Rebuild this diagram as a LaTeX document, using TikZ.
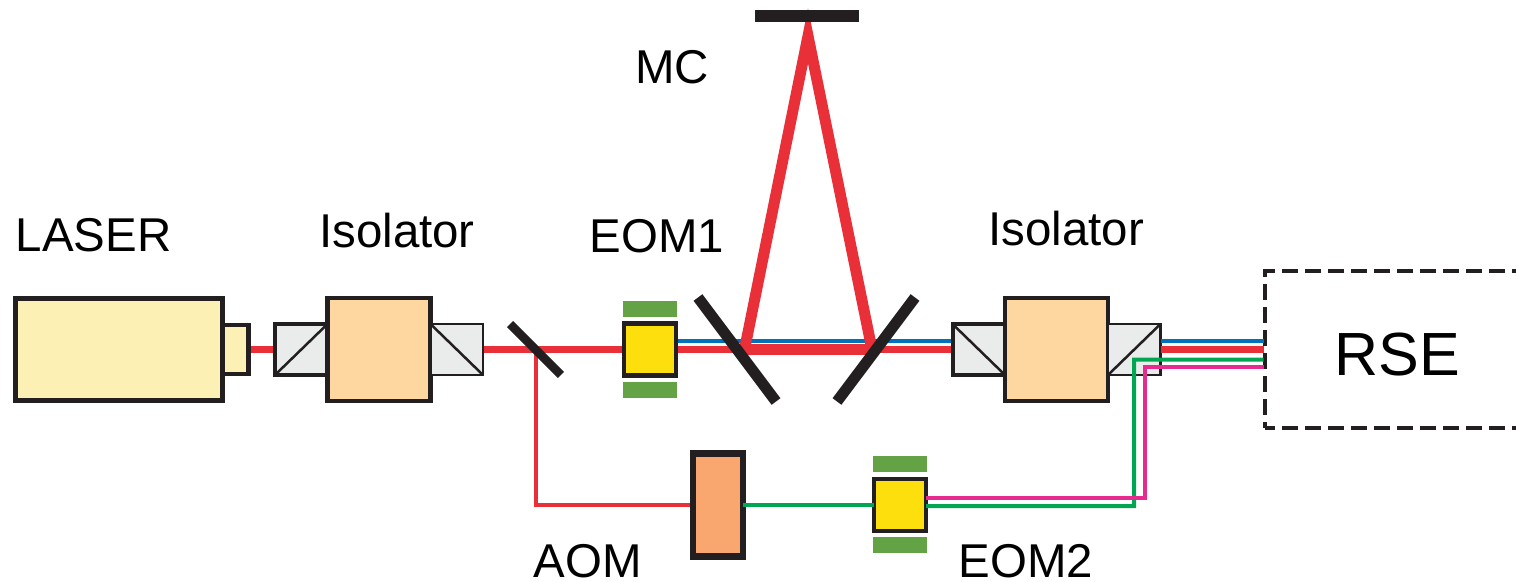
\documentclass[tikz,border=0pt]{standalone}
\usepackage{fontspec}
\setmainfont{Liberation Sans}
\usepackage{xcolor}
\usepackage{tikz}
\usetikzlibrary{positioning,backgrounds}

\definecolor{ink}{HTML}{231F20}
\definecolor{beamred}{HTML}{E92F38}
\definecolor{beamblue}{HTML}{0071BB}
\definecolor{beamgreen}{HTML}{00A651}
\definecolor{beampink}{HTML}{E72A8E}
\definecolor{laserfill}{HTML}{FDF0B5}
\definecolor{bodyfill}{HTML}{FDD6A0}
\definecolor{prismfill}{HTML}{EAECEB}
\definecolor{eomfill}{HTML}{FCDF0C}
\definecolor{platefill}{HTML}{63A345}
\definecolor{aomfill}{HTML}{F9A76E}

\begin{document}
\begin{tikzpicture}[
  box/.style={draw=ink,line width=0.09cm,outer sep=0pt,inner sep=0pt},
  laserbox/.style={box,fill=laserfill},
  bodybox/.style={box,fill=bodyfill,minimum width=2.06cm,minimum height=2.06cm},
  prism/.style={box,fill=prismfill,line width=0.08cm,minimum width=1.05cm,minimum height=1.02cm},
  thinprism/.style={prism,line width=0.055cm},
  eom/.style={box,fill=eomfill,minimum width=1.04cm,minimum height=1.04cm},
  plate/.style={fill=platefill,minimum width=1.08cm,minimum height=0.32cm,
                inner sep=0pt,outer sep=0pt},
  mirror/.style={fill=ink,inner sep=0pt,outer sep=0pt},
  lbl/.style={font=\fontsize{27}{30}\selectfont,inner sep=0pt,anchor=base},
  beam/.style={draw=beamred,line width=0.14cm},
  thinbeam/.style={line width=0.08cm}]

  \useasboundingbox (0,0) rectangle (30.32,11.62);

  \node[laserbox,minimum width=4.14cm,minimum height=2.04cm] (laser) at (2.38,4.63) {};
  \node[laserbox,minimum width=0.52cm,minimum height=0.98cm,right=0pt of laser] (nozzle) {};

  \node[prism,right=0.53cm of nozzle] (prisma) {};
  \node[bodybox,right=0pt of prisma] (isoa) {};
  \node[thinprism,right=0pt of isoa] (prismb) {};

  \node[mirror,minimum width=1.44cm,minimum height=0.17cm,rotate=-45] (split) at (10.71,4.63) {};

  \node[eom] (eoma) at (13.0,4.63) {};
  \node[plate,above=0.14cm of eoma] (plateat) {};
  \node[plate,below=0.12cm of eoma] (plateab) {};

  \node[mirror,minimum width=2.6cm,minimum height=0.22cm,rotate=-53.1] (mirl) at (14.74,4.63) {};
  \node[mirror,minimum width=2.6cm,minimum height=0.22cm,rotate=53.1] (mirr) at (17.52,4.63) {};
  \node[mirror,minimum width=2.08cm,minimum height=0.23cm] (mirt) at (16.13,11.3) {};

  \node[bodybox] (isob) at (21.13,4.63) {};
  \node[prism,left=0pt of isob] (prismc) {};
  \node[thinprism,right=0pt of isob] (prismd) {};

  \node[box,fill=aomfill,line width=0.13cm,minimum width=1.0cm,minimum height=2.06cm] (aom) at (14.36,1.52) {};
  \node[eom] (eomb) at (18.0,1.52) {};
  \node[plate,above=0.14cm of eomb] (platebt) {};
  \node[plate,below=0.12cm of eomb] (platebb) {};

  \node[box,dash pattern=on 0.32cm off 0.14cm,dash phase=0.12cm,fill=none,
        minimum width=5.37cm,minimum height=3.14cm] (rse) at (27.985,4.63) {};
  \node[font=\fontsize{34.7}{40}\selectfont,inner sep=0pt] (rselbl) at (27.94,4.52) {RSE};

  \coordinate (apex) at (16.16,10.9);
  \coordinate (mcl) at (14.89,4.63);
  \coordinate (mcr) at (17.44,4.63);
  \coordinate (branch) at (10.72,4.63);
  \coordinate (greenknee) at (22.68,4.43);
  \coordinate (pinkknee) at (22.9,4.28);

  \begin{scope}[on background layer]
    \draw[draw=beamblue,line width=0.07cm] ([yshift=0.17cm]eoma.east) -- ([yshift=0.17cm]prismc.west);
    \draw[beam] (nozzle) -- (prisma);
    \draw[beam] (prismb) -- (eoma);
    \draw[beam] (eoma) -- (prismc);
    \draw[beam,line width=0.21cm] (mcl) -- (mcr);
    \draw[beam,line width=0.22cm,line join=miter,miter limit=20] (mcl) -- (apex) -- (mcr);
    \draw[draw=beamred,thinbeam] (branch) |- (aom);
  \end{scope}

  \draw[draw=ink,line width=0.05cm] (prisma.south west) -- (prisma.north east);
  \draw[draw=ink,line width=0.05cm] (prismb.north west) -- (prismb.south east);
  \draw[draw=ink,line width=0.05cm] (prismc.north west) -- (prismc.south east);
  \draw[draw=ink,line width=0.05cm] (prismd.south west) -- (prismd.north east);

  \draw[draw=beamblue,line width=0.07cm] ([yshift=0.17cm]prismd.east) -- ([xshift=-0.03cm,yshift=0.17cm]rse.west);
  \draw[beam] (prismd.east) -- ([xshift=-0.03cm]rse.west);
  \draw[draw=beamgreen,thinbeam] (aom.east) -- (eomb.west);
  \draw[draw=beamgreen,thinbeam] ([yshift=-0.02cm]eomb.east) -| (greenknee) -- ([xshift=-0.03cm,yshift=-0.2cm]rse.west);
  \draw[draw=beampink,thinbeam] ([yshift=0.15cm]eomb.east) -| (pinkknee) -- ([xshift=-0.03cm,yshift=-0.35cm]rse.west);

  \node[lbl] (laserlbl) at (1.87,6.6) {LASER};
  \node[lbl] (isoalbl) at (7.94,6.67) {Isolator};
  \node[lbl] (eomalbl) at (13.14,6.58) {EOM1};
  \node[lbl] (mclbl) at (13.44,9.95) {MC};
  \node[lbl] (isoblbl) at (21.32,6.72) {Isolator};
  \node[lbl] (aomlbl) at (11.76,0.08) {AOM};
  \node[lbl] (eomblbl) at (20.52,0.08) {EOM2};
\end{tikzpicture}
\end{document}
